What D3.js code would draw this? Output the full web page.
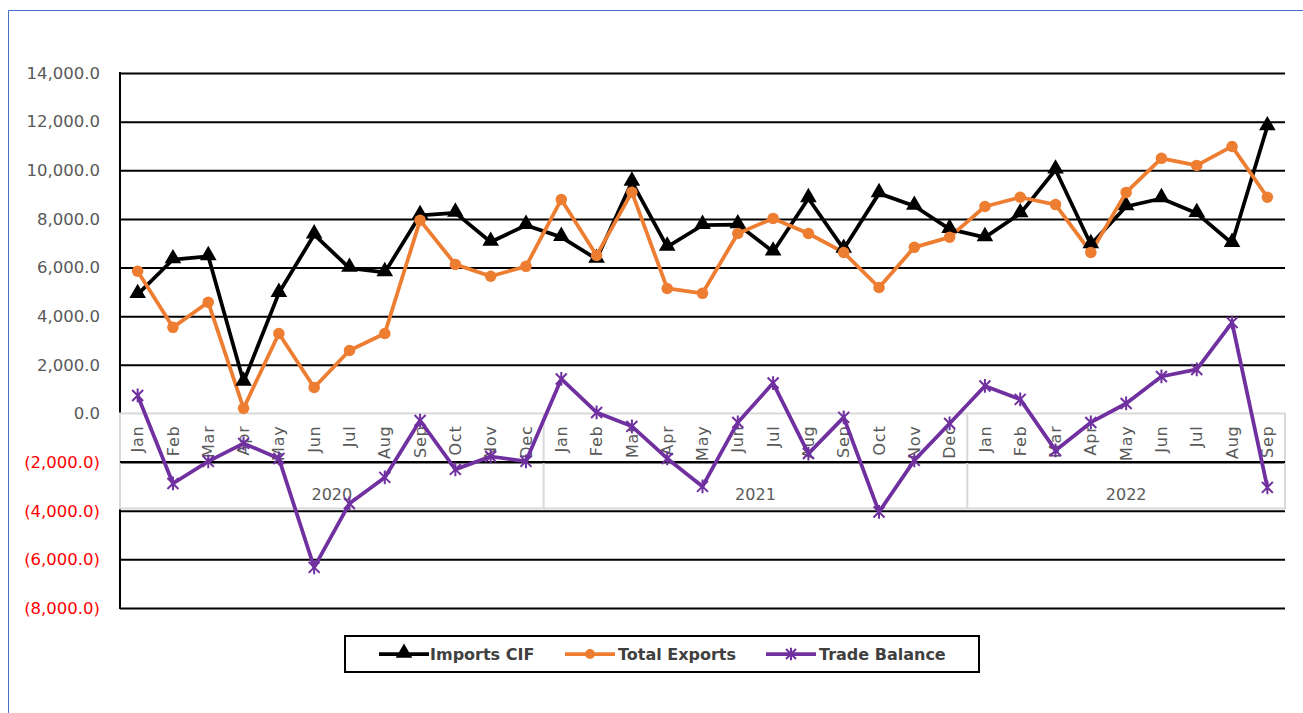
<!DOCTYPE html>
<html>
<head>
<meta charset="utf-8">
<script src="https://cdn.jsdelivr.net/npm/d3@7"></script>
<style>
  html, body { margin: 0; padding: 0; background: #fff; }
  svg { display: block; }
</style>
</head>
<body>
<svg id="chart" width="1303" height="713"></svg>
<script>
// ---------- DATA ----------
const years = ["2020", "2021", "2022"];
const monthNames = ["Jan","Feb","Mar","Apr","May","Jun","Jul","Aug","Sep","Oct","Nov","Dec"];
const monthsPerYear = [12, 12, 9];

const importsCIF = [
  4900, 6330, 6460, 1300, 4950, 7350, 5980, 5800, 8150, 8250, 7050, 7740,
  7250, 6350, 9520, 6850, 7740, 7770, 6650, 8840, 6760, 9050, 8530, 7580,
  7240, 8220, 10020, 6950, 8510, 8840, 8230, 7000, 11800
];
const totalExports = [
  5850, 3540, 4570, 210, 3290, 1070, 2590, 3290, 7940, 6130, 5640, 6050,
  8800, 6500, 9100, 5140, 4940, 7400, 8020, 7400, 6620, 5180, 6830, 7250,
  8510, 8890, 8590, 6620, 9090, 10490, 10200, 10980, 8890
];
const tradeBalance = [
  740, -2880, -1970, -1230, -1850, -6330, -3700, -2630, -290, -2300, -1770, -1970,
  1420, 40, -530, -1850, -3000, -370, 1250, -1650, -160, -4050, -1930, -410,
  1130, 580, -1520, -370, 410, 1520, 1810, 3740, -3040
];
const yTickValues = [-8000, -6000, -4000, -2000, 0, 2000, 4000, 6000, 8000, 10000, 12000, 14000];
const seriesNames = ["Imports CIF", "Total Exports", "Trade Balance"];

// ---------- BUILD CATEGORIES ----------
const categories = [];
years.forEach((yr, yi) => {
  for (let m = 0; m < monthsPerYear[yi]; m++) {
    categories.push({ key: yr + "-" + monthNames[m], month: monthNames[m], year: yr });
  }
});

// ---------- LAYOUT ----------
const svg = d3.select("#chart");
const plot = { left: 120, right: 1285, top: 73, bottom: 608 };
const font = "'DejaVu Sans', Verdana, sans-serif";

// outer chart border (blue)
svg.append("path")
  .attr("d", "M8.5,713 L8.5,10.5 L1303,10.5")
  .attr("fill", "none").attr("stroke", "#4472C4").attr("stroke-width", 1);

const x = d3.scaleBand().domain(categories.map(d => d.key)).range([plot.left, plot.right]).padding(0);
const y = d3.scaleLinear().domain([-8000, 14000]).range([plot.bottom, plot.top]);
const cx = k => x(k) + x.bandwidth() / 2;

// gridlines
const grid = svg.append("g")
  .attr("transform", `translate(${plot.left},0)`)
  .call(d3.axisLeft(y).tickValues(yTickValues.filter(v => v !== 0)).tickSize(-(plot.right - plot.left)).tickFormat(""));
grid.select(".domain").remove();
grid.selectAll("line").attr("stroke", "#000").attr("stroke-width", 2);

// y axis labels
const fmt = d3.format(",.1f");
const yAxis = svg.append("g")
  .attr("transform", `translate(${plot.left - 17},0)`)
  .call(d3.axisLeft(y).tickValues(yTickValues).tickSize(0)
    .tickFormat(v => v < 0 ? "(" + fmt(-v) + ")" : fmt(v)));
yAxis.select(".domain").remove();
yAxis.selectAll("text")
  .attr("font-family", font).attr("font-size", 16.5)
  .attr("fill", v => v < 0 ? "#FF0000" : "#595959");

// y axis line
svg.append("line")
  .attr("x1", plot.left).attr("x2", plot.left)
  .attr("y1", plot.top - 1).attr("y2", plot.bottom + 1)
  .attr("stroke", "#000").attr("stroke-width", 2);

// category axis box (multi-level)
const y0 = y(0);
const boxBottom = y0 + 95;
const boxG = svg.append("g");
boxG.append("rect")
  .attr("x", plot.left).attr("y", y0)
  .attr("width", plot.right - plot.left).attr("height", boxBottom - y0)
  .attr("fill", "none").attr("stroke", "#D9D9D9").attr("stroke-width", 2);
// year separators
let idx = 0;
const yearGroups = years.map((yr, yi) => {
  const first = categories[idx].key;
  const last = categories[idx + monthsPerYear[yi] - 1].key;
  idx += monthsPerYear[yi];
  return { yr, x0: x(first), x1: x(last) + x.bandwidth() };
});
yearGroups.slice(1).forEach(g => {
  boxG.append("line").attr("x1", g.x0).attr("x2", g.x0).attr("y1", y0).attr("y2", boxBottom)
    .attr("stroke", "#D9D9D9").attr("stroke-width", 2);
});
// gridline crossing the box (-2000)
svg.append("line")
  .attr("x1", plot.left).attr("x2", plot.right).attr("y1", y(-2000)).attr("y2", y(-2000))
  .attr("stroke", "#000").attr("stroke-width", 2);

// month labels via axis
const xAxis = svg.append("g")
  .attr("transform", `translate(0,${y0})`)
  .call(d3.axisBottom(x).tickSize(0).tickFormat(k => categories.find(c => c.key === k).month));
xAxis.select(".domain").remove();
xAxis.selectAll("text")
  .attr("font-family", font).attr("font-size", 16).attr("fill", "#595959")
  .attr("letter-spacing", "0.8px")
  .attr("text-anchor", "end")
  .attr("dy", "0.35em")
  .attr("transform", "translate(0,12) rotate(-90)")
  .attr("x", 0).attr("y", 0);

// year labels
svg.selectAll(".yearLabel").data(yearGroups).enter().append("text")
  .attr("x", d => (d.x0 + d.x1) / 2).attr("y", y0 + 87)
  .attr("text-anchor", "middle")
  .attr("font-family", font).attr("font-size", 16).attr("fill", "#595959")
  .text(d => d.yr);

// ---------- SERIES ----------
const colors = ["#000000", "#ED7D31", "#7030A0"];
const seriesData = [importsCIF, totalExports, tradeBalance];
const line = d3.line().x((d, i) => cx(categories[i].key)).y(d => y(d));

const triangle = d3.symbol().type(d3.symbolTriangle).size(120);
const starPath = s => `M${-s},${-s}L${s},${s}M${-s},${s}L${s},${-s}M0,${-s * 1.25}L0,${s * 1.25}`;

seriesData.forEach((vals, si) => {
  svg.append("path").datum(vals)
    .attr("d", line).attr("fill", "none")
    .attr("stroke", colors[si]).attr("stroke-width", 3.75)
    .attr("stroke-linejoin", "round");
});
// markers
seriesData.forEach((vals, si) => {
  const g = svg.append("g");
  vals.forEach((v, i) => {
    const px = cx(categories[i].key), py = y(v);
    if (si === 0) {
      g.append("path").attr("d", triangle()).attr("transform", `translate(${px},${py - 1})`).attr("fill", colors[0]);
    } else if (si === 1) {
      g.append("circle").attr("cx", px).attr("cy", py).attr("r", 5.75).attr("fill", colors[1]);
    } else {
      g.append("path").attr("d", starPath(5.5)).attr("transform", `translate(${px},${py})`)
        .attr("stroke", colors[2]).attr("stroke-width", 2).attr("fill", "none");
    }
  });
});

// ---------- LEGEND ----------
const lg = svg.append("g");
lg.append("rect").attr("x", 345).attr("y", 636).attr("width", 634).attr("height", 36)
  .attr("fill", "#fff").attr("stroke", "#000").attr("stroke-width", 2);
const legendItems = [
  { name: seriesNames[0], lx: 379, tx: 430 },
  { name: seriesNames[1], lx: 565, tx: 618 },
  { name: seriesNames[2], lx: 766, tx: 819 }
];
legendItems.forEach((it, i) => {
  const ly = 654;
  lg.append("line").attr("x1", it.lx).attr("x2", it.lx + 50).attr("y1", ly).attr("y2", ly)
    .attr("stroke", colors[i]).attr("stroke-width", 3.75);
  const mx = it.lx + 25;
  if (i === 0) lg.append("path").attr("d", triangle()).attr("transform", `translate(${mx},${ly - 1})`).attr("fill", colors[0]);
  else if (i === 1) lg.append("circle").attr("cx", mx).attr("cy", ly).attr("r", 5).attr("fill", colors[1]);
  else lg.append("path").attr("d", starPath(5)).attr("transform", `translate(${mx},${ly})`)
    .attr("stroke", colors[2]).attr("stroke-width", 2).attr("fill", "none");
  lg.append("text").attr("x", it.tx).attr("y", ly).attr("dy", "0.35em")
    .attr("font-family", font).attr("font-size", 16).attr("font-weight", "bold")
    .attr("fill", "#404040").text(it.name);
});
</script>
</body>
</html>
